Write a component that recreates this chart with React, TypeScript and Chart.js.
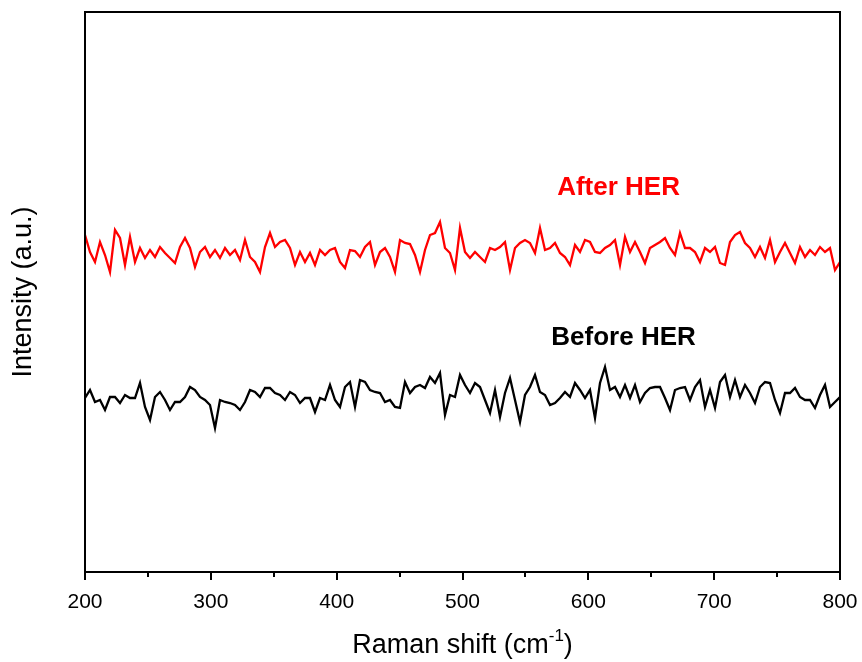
import React, { useEffect, useRef } from 'react';
import { Chart, registerables } from 'chart.js';
Chart.register(...registerables);

const xMin = 200;
const xMax = 800;
const xTickValues = [200, 250, 300, 350, 400, 450, 500, 550, 600, 650, 700, 750, 800];
const yMin = 0;
const yMax = 560;

const afterHER = [
  337, 320, 310, 330, 317, 300, 342, 334, 307, 335, 310, 324, 314, 322, 315, 325, 319, 314, 309, 325,
  334, 324, 305, 320, 325, 315, 322, 314, 324, 317, 322, 312, 332, 315, 310, 300, 325, 339, 325,
  330, 332, 324, 307, 320, 310, 319, 307, 322, 317, 322, 324, 310, 304, 322, 321, 315, 325, 330, 307,
  320, 324, 315, 300, 332, 329, 328, 317, 300, 322, 337, 339, 350, 324, 319, 302, 344, 320, 314,
  320, 315, 310, 324, 322, 325, 330, 302, 324, 329, 332, 329, 319, 344, 322, 324, 329, 319, 315, 307,
  327, 320, 332, 330, 320, 319, 324, 327, 332, 307, 335, 320, 330, 320, 309, 324, 327, 330,
  334, 324, 317, 339, 324, 324, 320, 310, 324, 320, 325, 309, 307, 330, 337, 340, 329, 324, 315, 325,
  314, 332, 310, 320, 329, 319, 309, 325, 315, 322, 317, 325, 320, 324, 302, 310,
];

const beforeHER = [
  174, 182, 170, 172, 162, 175, 175, 169, 177, 174, 174, 189, 165, 152, 175, 180, 172, 162, 170, 170,
  175, 185, 182, 175, 172, 167, 144, 172, 170, 169, 167, 162, 170, 182, 180, 175, 184, 184, 179,
  177, 172, 180, 177, 169, 174, 174, 160, 174, 172, 187, 172, 165, 185, 190, 165, 192, 190, 182, 180,
  179, 170, 172, 165, 164, 190, 179, 185, 187, 184, 195, 189, 199, 157, 177, 175, 197, 187, 179,
  189, 185, 172, 159, 182, 155, 179, 194, 172, 150, 177, 185, 197, 180, 177, 167, 169, 174, 180, 175,
  189, 182, 174, 182, 154, 189, 205, 182, 185, 175, 187, 174, 187, 170, 179, 184, 185, 185,
  174, 162, 182, 184, 185, 172, 185, 192, 165, 182, 164, 190, 197, 175, 192, 175, 187, 179, 169, 185,
  190, 189, 172, 159, 179, 179, 184, 175, 172, 172, 164, 177, 187, 165, 170, 175,
];

const seriesNames = ['After HER', 'Before HER'];
const seriesColors = ['#ff0000', '#000000'];
const labelX = [624, 628];
const labelY = [384, 234];

const FONT = "Arial, 'Liberation Sans', sans-serif";

function toPoints(values: number[]) {
  const n = values.length;
  return values.map((v, i) => ({ x: xMin + (i * (xMax - xMin)) / (n - 1), y: v }));
}

const framePlugin = {
  id: 'frameTicks',
  afterDraw(chart: any) {
    const ctx = chart.ctx;
    const { left, right, top, bottom } = chart.chartArea;
    const xs = chart.scales.x;
    const ys = chart.scales.y;
    ctx.save();
    ctx.strokeStyle = '#000';
    ctx.lineWidth = 2;
    ctx.strokeRect(left, top, right - left, bottom - top);
    xTickValues.forEach((v) => {
      const px = Math.round(xs.getPixelForValue(v));
      const len = v % 100 === 0 ? 8 : 5;
      ctx.beginPath();
      ctx.moveTo(px, bottom);
      ctx.lineTo(px, bottom + len);
      ctx.stroke();
    });
    ctx.font = `bold 26px ${FONT}`;
    ctx.textAlign = 'center';
    ctx.textBaseline = 'middle';
    seriesNames.forEach((name, i) => {
      ctx.fillStyle = seriesColors[i];
      ctx.fillText(name, xs.getPixelForValue(labelX[i]), ys.getPixelForValue(labelY[i]));
    });
    ctx.fillStyle = '#000';
    const mainFont = `27px ${FONT}`;
    const supFont = `17px ${FONT}`;
    const t1 = 'Raman shift (cm';
    const t2 = '-1';
    const t3 = ')';
    ctx.font = mainFont;
    const w1 = ctx.measureText(t1).width;
    const w3 = ctx.measureText(t3).width;
    ctx.font = supFont;
    const w2 = ctx.measureText(t2).width;
    const total = w1 + w2 + w3;
    const cx = (left + right) / 2;
    let x0 = cx - total / 2;
    const yb = 653;
    ctx.textAlign = 'left';
    ctx.textBaseline = 'alphabetic';
    ctx.font = mainFont;
    ctx.fillText(t1, x0, yb);
    x0 += w1;
    ctx.font = supFont;
    ctx.fillText(t2, x0, yb - 12);
    x0 += w2;
    ctx.font = mainFont;
    ctx.fillText(t3, x0, yb);
    ctx.save();
    ctx.translate(24, (top + bottom) / 2);
    ctx.rotate(-Math.PI / 2);
    ctx.textAlign = 'center';
    ctx.textBaseline = 'middle';
    ctx.font = mainFont;
    ctx.fillText('Intensity (a.u.)', 0, 0);
    ctx.restore();
    ctx.restore();
  },
};

export default function App() {
  const canvasRef = useRef<HTMLCanvasElement | null>(null);

  useEffect(() => {
    if (!canvasRef.current) return;
    const chart = new Chart(canvasRef.current, {
      type: 'line',
      data: {
        datasets: [
          {
            label: seriesNames[0],
            data: toPoints(afterHER),
            borderColor: seriesColors[0],
            borderWidth: 2.3,
            pointRadius: 0,
            tension: 0,
          },
          {
            label: seriesNames[1],
            data: toPoints(beforeHER),
            borderColor: seriesColors[1],
            borderWidth: 2.3,
            pointRadius: 0,
            tension: 0,
          },
        ],
      },
      options: {
        animation: false,
        responsive: true,
        maintainAspectRatio: false,
        layout: { padding: { top: 12, right: 22, left: 0, bottom: 0 } },
        plugins: { legend: { display: false }, tooltip: { enabled: false } },
        scales: {
          x: {
            type: 'linear',
            min: xMin,
            max: xMax,
            grid: { display: false, drawTicks: false },
            border: { display: false },
            ticks: {
              stepSize: 100,
              padding: 18,
              color: '#000',
              font: { family: FONT, size: 21 },
              maxRotation: 0,
            },
            afterFit: (scale: any) => {
              scale.height = 90;
              scale.paddingLeft = 0;
              scale.paddingRight = 0;
            },
          },
          y: {
            type: 'linear',
            min: yMin,
            max: yMax,
            grid: { display: false, drawTicks: false },
            border: { display: false },
            ticks: { display: false },
            afterFit: (scale: any) => {
              scale.width = 85;
              scale.paddingTop = 0;
              scale.paddingBottom = 0;
            },
          },
        },
      },
      plugins: [framePlugin],
    });
    return () => chart.destroy();
  }, []);

  return (
    <div style={{ position: 'absolute', left: 0, top: 0, width: 862, height: 662, background: '#fff' }}>
      <canvas ref={canvasRef} />
    </div>
  );
}
